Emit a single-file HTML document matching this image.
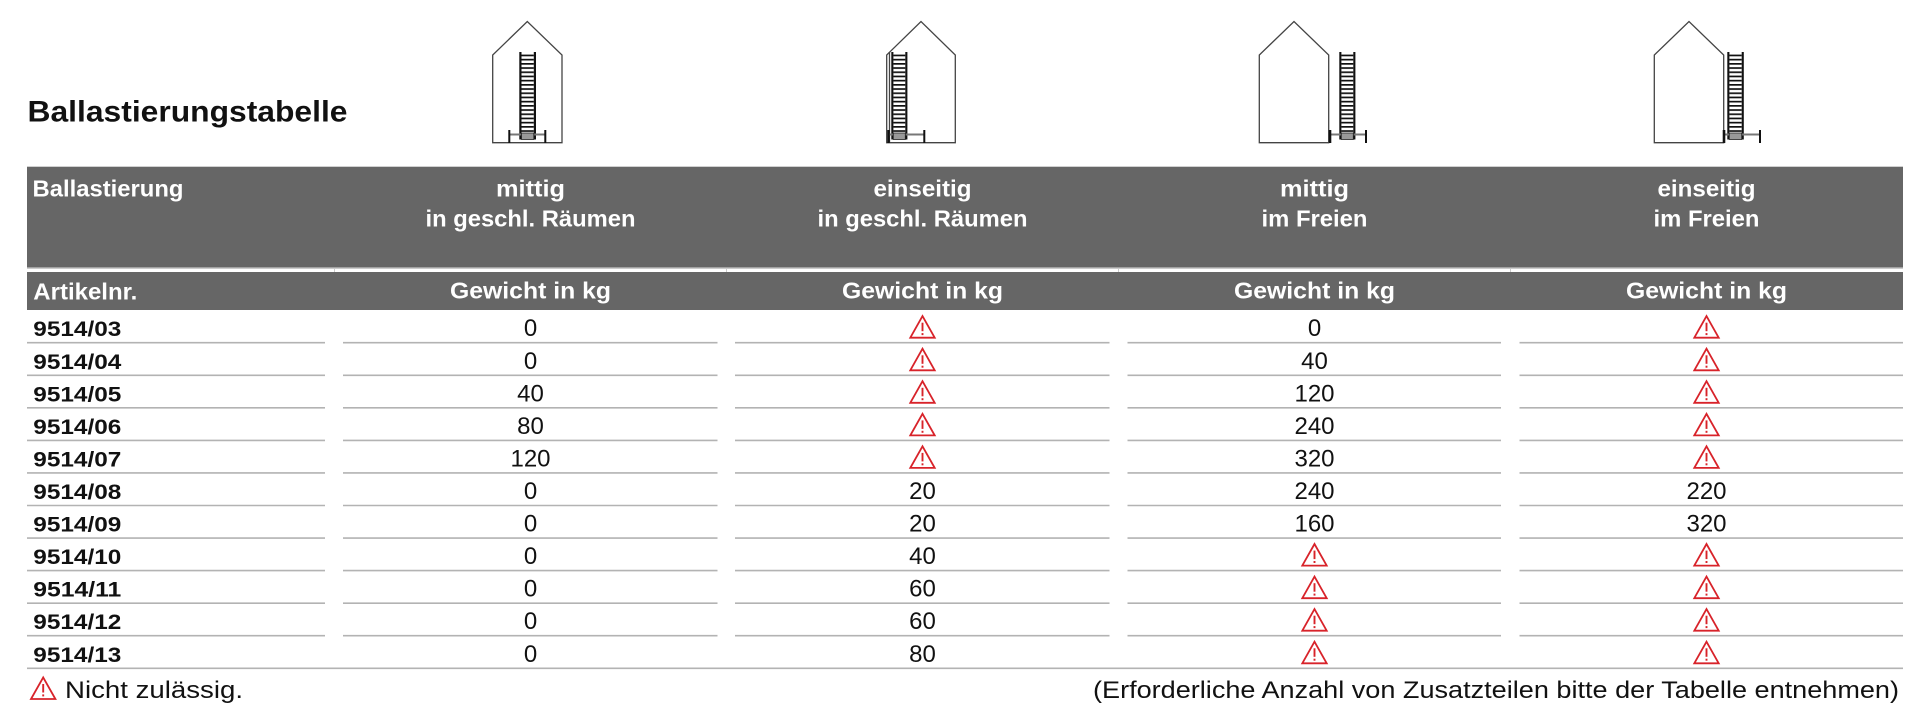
<!DOCTYPE html>
<html>
<head>
<meta charset="utf-8">
<style>
html,body{margin:0;padding:0;background:#fff;}
svg{display:block}
</style>
</head>
<body>
<svg width="1920" height="720" viewBox="0 0 1920 720" xmlns="http://www.w3.org/2000/svg" font-family="'Liberation Sans', sans-serif">
<defs>
  <pattern id="rung" width="6" height="4.2" patternUnits="userSpaceOnUse">
    <rect x="0" y="0" width="6" height="1.7" fill="#111"/>
  </pattern>
  <g id="w">
    <path d="M-12.2,0 L12.2,0 L0,-21.6 Z" fill="none" stroke="#d8232a" stroke-width="1.8" stroke-linejoin="miter"/>
    <rect x="-0.95" y="-15" width="1.9" height="8.5" fill="#d8232a"/>
    <rect x="-0.95" y="-4.6" width="1.9" height="2" fill="#d8232a"/>
  </g>
</defs>
<rect width="1920" height="720" fill="#fff"/>

<!-- Title -->
<text x="27.5" y="121.7" font-size="30" font-weight="bold" fill="#111" textLength="320" lengthAdjust="spacingAndGlyphs">Ballastierungstabelle</text>

<!-- Houses -->
<g fill="none" stroke="#444" stroke-width="1.3">
  <path d="M492.7,142.7 L492.7,55 L527.3,21.5 L562,55 L562,142.7 Z"/>
  <path d="M886.7,142.7 L886.7,55 L921,21.5 L955.3,55 L955.3,142.7 Z"/>
  <path d="M1259.3,142.7 L1259.3,55 L1294,21.5 L1328.7,55 L1328.7,142.7 Z"/>
  <path d="M1654.3,142.7 L1654.3,55 L1689,21.5 L1723.7,55 L1723.7,142.7 Z"/>
  <line x1="889.5" y1="52" x2="889.5" y2="143"/>
</g>

<!-- Ladder 1 -->
<g>
  <rect x="521.5" y="54" width="12.3" height="78" fill="url(#rung)"/>
  <rect x="519.3" y="52" width="2.2" height="87.5" fill="#111"/>
  <rect x="533.8" y="52" width="2.2" height="87.5" fill="#111"/>
  <line x1="509.3" y1="134.5" x2="545.3" y2="134.5" stroke="#777" stroke-width="2"/>
  <rect x="521.5" y="133" width="12.3" height="6.5" fill="#999" stroke="#222" stroke-width="0.8"/>
  <rect x="508.3" y="130" width="2" height="13" fill="#111"/>
  <rect x="544.3" y="130" width="2" height="13" fill="#111"/>
</g>
<!-- Ladder 2 -->
<g>
  <rect x="893.3" y="54" width="12" height="78" fill="url(#rung)"/>
  <rect x="891.3" y="52" width="2.1" height="87.5" fill="#111"/>
  <rect x="905.3" y="52" width="2.1" height="87.5" fill="#111"/>
  <line x1="888" y1="134.5" x2="924.3" y2="134.5" stroke="#777" stroke-width="2"/>
  <rect x="893.3" y="133" width="12" height="6.5" fill="#999" stroke="#222" stroke-width="0.8"/>
  <rect x="887.3" y="130" width="2.5" height="13" fill="#111"/>
  <rect x="923.3" y="130" width="2" height="13" fill="#111"/>
</g>
<!-- Ladder 3 -->
<g>
  <rect x="1341.3" y="54" width="12" height="78" fill="url(#rung)"/>
  <rect x="1339.3" y="52" width="2.1" height="87.5" fill="#111"/>
  <rect x="1353.3" y="52" width="2.1" height="87.5" fill="#111"/>
  <line x1="1329.3" y1="134.5" x2="1366" y2="134.5" stroke="#777" stroke-width="2"/>
  <rect x="1341.3" y="133" width="12" height="6.5" fill="#999" stroke="#222" stroke-width="0.8"/>
  <rect x="1328.8" y="130" width="2.5" height="13" fill="#111"/>
  <rect x="1365" y="130" width="2" height="13" fill="#111"/>
</g>
<!-- Ladder 4 -->
<g>
  <rect x="1729.3" y="54" width="12.4" height="78" fill="url(#rung)"/>
  <rect x="1727.3" y="52" width="2.1" height="87.5" fill="#111"/>
  <rect x="1741.7" y="52" width="2.1" height="87.5" fill="#111"/>
  <line x1="1723.7" y1="134.5" x2="1760" y2="134.5" stroke="#777" stroke-width="2"/>
  <rect x="1729.3" y="133" width="12.4" height="6.5" fill="#999" stroke="#222" stroke-width="0.8"/>
  <rect x="1722.7" y="130" width="2.6" height="13" fill="#111"/>
  <rect x="1759" y="130" width="2" height="13" fill="#111"/>
</g>

<!-- Header bands -->
<rect x="27" y="166.7" width="1876" height="100.8" fill="#666"/>
<line x1="27" y1="268.2" x2="1903" y2="268.2" stroke="#bbb" stroke-width="1"/>
<g stroke="#ccc" stroke-width="1">
  <line x1="334.5" y1="268" x2="334.5" y2="272"/>
  <line x1="726.5" y1="268" x2="726.5" y2="272"/>
  <line x1="1118.5" y1="268" x2="1118.5" y2="272"/>
  <line x1="1510.5" y1="268" x2="1510.5" y2="272"/>
</g>
<rect x="27" y="272" width="1876" height="38" fill="#666"/>

<g fill="#fff" font-weight="bold" font-size="23">
  <text x="32.5" y="196.5" textLength="151" lengthAdjust="spacingAndGlyphs">Ballastierung</text>
  <text x="530.5" y="196.5" text-anchor="middle" textLength="69" lengthAdjust="spacingAndGlyphs">mittig</text>
  <text x="530.5" y="226.5" text-anchor="middle" textLength="210" lengthAdjust="spacingAndGlyphs">in geschl. Räumen</text>
  <text x="922.5" y="196.5" text-anchor="middle" textLength="98" lengthAdjust="spacingAndGlyphs">einseitig</text>
  <text x="922.5" y="226.5" text-anchor="middle" textLength="210" lengthAdjust="spacingAndGlyphs">in geschl. Räumen</text>
  <text x="1314.5" y="196.5" text-anchor="middle" textLength="69" lengthAdjust="spacingAndGlyphs">mittig</text>
  <text x="1314.5" y="226.5" text-anchor="middle" textLength="106" lengthAdjust="spacingAndGlyphs">im Freien</text>
  <text x="1706.5" y="196.5" text-anchor="middle" textLength="98" lengthAdjust="spacingAndGlyphs">einseitig</text>
  <text x="1706.5" y="226.5" text-anchor="middle" textLength="106" lengthAdjust="spacingAndGlyphs">im Freien</text>

  <text x="33.3" y="299.3" textLength="104" lengthAdjust="spacingAndGlyphs">Artikelnr.</text>
  <text x="530.5" y="298.5" text-anchor="middle" textLength="161" lengthAdjust="spacingAndGlyphs">Gewicht in kg</text>
  <text x="922.5" y="298.5" text-anchor="middle" textLength="161" lengthAdjust="spacingAndGlyphs">Gewicht in kg</text>
  <text x="1314.5" y="298.5" text-anchor="middle" textLength="161" lengthAdjust="spacingAndGlyphs">Gewicht in kg</text>
  <text x="1706.5" y="298.5" text-anchor="middle" textLength="161" lengthAdjust="spacingAndGlyphs">Gewicht in kg</text>
</g>

<!-- Row lines -->
<g stroke="#b3b3b3" stroke-width="1.6">
  <path d="M27,342.7H325 M343,342.7H717.5 M735,342.7H1109.5 M1127.5,342.7H1501 M1519.5,342.7H1903"/>
  <path d="M27,375.3H325 M343,375.3H717.5 M735,375.3H1109.5 M1127.5,375.3H1501 M1519.5,375.3H1903"/>
  <path d="M27,407.8H325 M343,407.8H717.5 M735,407.8H1109.5 M1127.5,407.8H1501 M1519.5,407.8H1903"/>
  <path d="M27,440.4H325 M343,440.4H717.5 M735,440.4H1109.5 M1127.5,440.4H1501 M1519.5,440.4H1903"/>
  <path d="M27,472.9H325 M343,472.9H717.5 M735,472.9H1109.5 M1127.5,472.9H1501 M1519.5,472.9H1903"/>
  <path d="M27,505.5H325 M343,505.5H717.5 M735,505.5H1109.5 M1127.5,505.5H1501 M1519.5,505.5H1903"/>
  <path d="M27,538.1H325 M343,538.1H717.5 M735,538.1H1109.5 M1127.5,538.1H1501 M1519.5,538.1H1903"/>
  <path d="M27,570.6H325 M343,570.6H717.5 M735,570.6H1109.5 M1127.5,570.6H1501 M1519.5,570.6H1903"/>
  <path d="M27,603.2H325 M343,603.2H717.5 M735,603.2H1109.5 M1127.5,603.2H1501 M1519.5,603.2H1903"/>
  <path d="M27,635.7H325 M343,635.7H717.5 M735,635.7H1109.5 M1127.5,635.7H1501 M1519.5,635.7H1903"/>
  <path d="M27,668.3H1903"/>
</g>

<!-- Article numbers -->
<g font-weight="bold" font-size="21.5" fill="#111">
  <text x="33.3" y="336.2" textLength="88" lengthAdjust="spacingAndGlyphs">9514/03</text>
  <text x="33.3" y="368.8" textLength="88" lengthAdjust="spacingAndGlyphs">9514/04</text>
  <text x="33.3" y="401.3" textLength="88" lengthAdjust="spacingAndGlyphs">9514/05</text>
  <text x="33.3" y="433.9" textLength="88" lengthAdjust="spacingAndGlyphs">9514/06</text>
  <text x="33.3" y="466.4" textLength="88" lengthAdjust="spacingAndGlyphs">9514/07</text>
  <text x="33.3" y="499.0" textLength="88" lengthAdjust="spacingAndGlyphs">9514/08</text>
  <text x="33.3" y="531.6" textLength="88" lengthAdjust="spacingAndGlyphs">9514/09</text>
  <text x="33.3" y="564.1" textLength="88" lengthAdjust="spacingAndGlyphs">9514/10</text>
  <text x="33.3" y="596.7" textLength="88" lengthAdjust="spacingAndGlyphs">9514/11</text>
  <text x="33.3" y="629.2" textLength="88" lengthAdjust="spacingAndGlyphs">9514/12</text>
  <text x="33.3" y="661.8" textLength="88" lengthAdjust="spacingAndGlyphs">9514/13</text>
</g>

<!-- Values -->
<g font-size="24" fill="#111" text-anchor="middle">
  <text x="530.5" y="336.2">0</text>
  <text x="1314.5" y="336.2">0</text>

  <text x="530.5" y="368.8">0</text>
  <text x="1314.5" y="368.8">40</text>

  <text x="530.5" y="401.3">40</text>
  <text x="1314.5" y="401.3">120</text>

  <text x="530.5" y="433.9">80</text>
  <text x="1314.5" y="433.9">240</text>

  <text x="530.5" y="466.4">120</text>
  <text x="1314.5" y="466.4">320</text>

  <text x="530.5" y="499.0">0</text>
  <text x="922.5" y="499.0">20</text>
  <text x="1314.5" y="499.0">240</text>
  <text x="1706.5" y="499.0">220</text>

  <text x="530.5" y="531.6">0</text>
  <text x="922.5" y="531.6">20</text>
  <text x="1314.5" y="531.6">160</text>
  <text x="1706.5" y="531.6">320</text>

  <text x="530.5" y="564.1">0</text>
  <text x="922.5" y="564.1">40</text>

  <text x="530.5" y="596.7">0</text>
  <text x="922.5" y="596.7">60</text>

  <text x="530.5" y="629.2">0</text>
  <text x="922.5" y="629.2">60</text>

  <text x="530.5" y="661.8">0</text>
  <text x="922.5" y="661.8">80</text>
</g>

<!-- Warning icons -->
<use href="#w" x="922.5" y="337.7"/>
<use href="#w" x="1706.5" y="337.7"/>
<use href="#w" x="922.5" y="370.3"/>
<use href="#w" x="1706.5" y="370.3"/>
<use href="#w" x="922.5" y="402.8"/>
<use href="#w" x="1706.5" y="402.8"/>
<use href="#w" x="922.5" y="435.4"/>
<use href="#w" x="1706.5" y="435.4"/>
<use href="#w" x="922.5" y="467.9"/>
<use href="#w" x="1706.5" y="467.9"/>
<use href="#w" x="1314.5" y="565.6"/>
<use href="#w" x="1706.5" y="565.6"/>
<use href="#w" x="1314.5" y="598.2"/>
<use href="#w" x="1706.5" y="598.2"/>
<use href="#w" x="1314.5" y="630.7"/>
<use href="#w" x="1706.5" y="630.7"/>
<use href="#w" x="1314.5" y="663.3"/>
<use href="#w" x="1706.5" y="663.3"/>

<!-- Footnotes -->
<use href="#w" x="43.2" y="699"/>
<text x="65" y="698" font-size="24.5" fill="#111" textLength="178" lengthAdjust="spacingAndGlyphs">Nicht zulässig.</text>
<text x="1093" y="698" font-size="24" fill="#111" textLength="806" lengthAdjust="spacingAndGlyphs">(Erforderliche Anzahl von Zusatzteilen bitte der Tabelle entnehmen)</text>
</svg>
</body>
</html>
